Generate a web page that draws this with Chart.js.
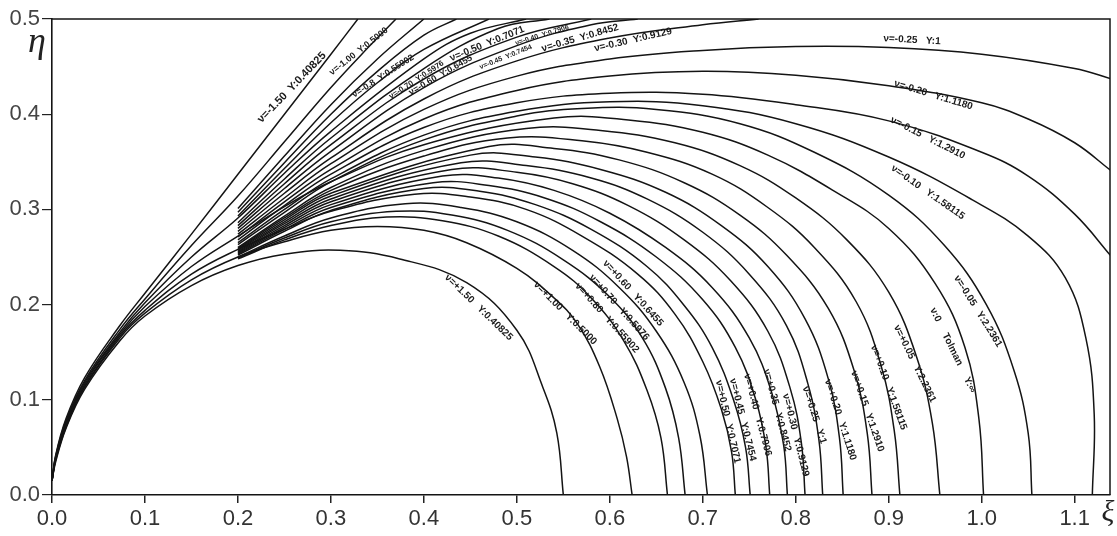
<!DOCTYPE html>
<html>
<head>
<meta charset="utf-8">
<script src="https://cdn.jsdelivr.net/npm/chart.js@4.4.1/dist/chart.umd.min.js"></script>
<style>
html, body { margin: 0; padding: 0; background: #fff; }
</style>
</head>
<body>
<canvas id="chartCanvas" width="1117" height="536"></canvas>
<script>
// curves, [xi, eta]
var nuM150 = [[0,0.015],[0.004,0.042],[0.015,0.08],[0.035,0.123],[0.073,0.178],[0.1,0.212],[0.15,0.274],[0.2,0.337],[0.25,0.4],[0.3,0.463],[0.329,0.5]];
var nuM100 = [[0,0.015],[0.004,0.041],[0.015,0.078],[0.035,0.12],[0.073,0.174],[0.1,0.206],[0.15,0.262],[0.2,0.314],[0.25,0.371],[0.3,0.428],[0.34,0.47],[0.37,0.5]];
var nuM080 = [[0.2,0.301],[0.25,0.356],[0.3,0.41],[0.35,0.458],[0.4,0.5]];
var nuM070 = [[0.2,0.297],[0.25,0.349],[0.3,0.4],[0.35,0.445],[0.4,0.483],[0.435,0.5]];
var nuM060 = [[0.2,0.293],[0.25,0.343],[0.3,0.391],[0.35,0.433],[0.4,0.468],[0.47,0.5]];
var nuM050 = [[0,0.015],[0.004,0.04],[0.015,0.076],[0.035,0.118],[0.073,0.171],[0.1,0.202],[0.15,0.25],[0.2,0.291],[0.25,0.338],[0.3,0.382],[0.4,0.458],[0.45,0.485],[0.51,0.5]];
var nuM045 = [[0.2,0.286],[0.25,0.332],[0.3,0.375],[0.4,0.448],[0.48,0.49],[0.535,0.5]];
var nuM040 = [[0.2,0.283],[0.25,0.327],[0.3,0.368],[0.4,0.437],[0.5,0.481],[0.58,0.5]];
var nuM035 = [[0.2,0.28],[0.25,0.322],[0.3,0.361],[0.4,0.428],[0.5,0.472],[0.58,0.494],[0.63,0.5]];
var nuM030 = [[0.2,0.277],[0.25,0.317],[0.3,0.354],[0.4,0.416],[0.5,0.456],[0.6,0.48],[0.7,0.494],[0.76,0.5]];
var nuM025 = [[0.2,0.274],[0.25,0.312],[0.3,0.348],[0.4,0.405],[0.5,0.44],[0.6,0.458],[0.7,0.467],[0.8,0.471],[0.9,0.47],[1.0,0.463],[1.1,0.448],[1.14,0.437]];
var nuM020 = [[0.2,0.271],[0.25,0.308],[0.3,0.342],[0.4,0.395],[0.5,0.425],[0.6,0.44],[0.7,0.445],[0.8,0.441],[0.9,0.43],[1.0,0.412],[1.05,0.395],[1.1,0.37],[1.14,0.34]];
var nuM015 = [[0.2,0.268],[0.25,0.304],[0.3,0.337],[0.4,0.386],[0.5,0.412],[0.6,0.422],[0.7,0.421],[0.8,0.41],[0.9,0.393],[1.0,0.36],[1.05,0.335],[1.1,0.295],[1.14,0.25]];
var nuM010 = [[0.2,0.265],[0.25,0.3],[0.3,0.332],[0.4,0.378],[0.5,0.403],[0.6,0.413],[0.7,0.409],[0.8,0.39],[0.9,0.355],[0.99,0.31],[1.05,0.272],[1.09,0.228],[1.112,0.165],[1.121,0.085],[1.119,0]];
var nuM005 = [[0.2,0.263],[0.25,0.297],[0.3,0.329],[0.4,0.373],[0.5,0.398],[0.57,0.406],[0.65,0.405],[0.74,0.39],[0.82,0.36],[0.9,0.315],[0.96,0.262],[1.005,0.2],[1.035,0.13],[1.05,0.065],[1.054,0]];
var nuZero = [[0,0.015],[0.004,0.039],[0.015,0.074],[0.035,0.116],[0.073,0.169],[0.1,0.198],[0.15,0.24],[0.2,0.272],[0.25,0.303],[0.3,0.329],[0.4,0.368],[0.54,0.396],[0.62,0.394],[0.7,0.381],[0.77,0.357],[0.84,0.32],[0.9,0.28],[0.95,0.222],[0.982,0.155],[0.997,0.08],[1.002,0]];
var nuP005 = [[0.2,0.26],[0.25,0.293],[0.3,0.323],[0.4,0.362],[0.51,0.385],[0.59,0.383],[0.67,0.37],[0.74,0.346],[0.8,0.312],[0.855,0.268],[0.9,0.213],[0.93,0.145],[0.947,0.075],[0.955,0]];
var nuP010 = [[0.2,0.259],[0.25,0.291],[0.3,0.32],[0.4,0.356],[0.49,0.375],[0.57,0.372],[0.64,0.36],[0.71,0.337],[0.77,0.302],[0.82,0.26],[0.865,0.203],[0.892,0.135],[0.906,0.067],[0.912,0]];
var nuP015 = [[0.2,0.258],[0.25,0.289],[0.3,0.317],[0.47,0.366],[0.54,0.364],[0.61,0.352],[0.68,0.328],[0.74,0.294],[0.79,0.252],[0.835,0.196],[0.863,0.13],[0.877,0.064],[0.882,0]];
var nuP020 = [[0.2,0.257],[0.25,0.287],[0.3,0.314],[0.45,0.357],[0.52,0.355],[0.59,0.342],[0.66,0.318],[0.72,0.283],[0.77,0.24],[0.81,0.185],[0.835,0.122],[0.847,0.06],[0.851,0]];
var nuP025 = [[0.2,0.256],[0.25,0.285],[0.3,0.311],[0.44,0.349],[0.51,0.346],[0.58,0.333],[0.64,0.311],[0.7,0.276],[0.75,0.232],[0.79,0.178],[0.813,0.117],[0.825,0.057],[0.829,0]];
var nuP030 = [[0.2,0.255],[0.25,0.283],[0.3,0.308],[0.43,0.342],[0.5,0.339],[0.56,0.327],[0.62,0.304],[0.68,0.268],[0.73,0.225],[0.77,0.172],[0.794,0.112],[0.806,0.055],[0.81,0]];
var nuP035 = [[0.2,0.254],[0.25,0.281],[0.3,0.305],[0.42,0.335],[0.48,0.333],[0.54,0.32],[0.6,0.296],[0.66,0.26],[0.71,0.218],[0.75,0.165],[0.774,0.108],[0.787,0.052],[0.791,0]];
var nuP040 = [[0.2,0.253],[0.25,0.279],[0.3,0.302],[0.41,0.328],[0.47,0.325],[0.53,0.312],[0.59,0.287],[0.65,0.25],[0.7,0.205],[0.735,0.155],[0.757,0.1],[0.768,0.05],[0.772,0]];
var nuP045 = [[0.2,0.252],[0.25,0.277],[0.3,0.299],[0.4,0.322],[0.46,0.319],[0.52,0.305],[0.58,0.279],[0.64,0.24],[0.68,0.199],[0.71,0.155],[0.733,0.1],[0.746,0.05],[0.751,0]];
var nuP050 = [[0,0.015],[0.004,0.038],[0.015,0.073],[0.035,0.114],[0.073,0.167],[0.1,0.194],[0.15,0.232],[0.2,0.258],[0.25,0.279],[0.3,0.298],[0.39,0.316],[0.45,0.313],[0.51,0.3],[0.57,0.272],[0.63,0.232],[0.67,0.19],[0.7,0.14],[0.72,0.09],[0.731,0.045],[0.735,0]];
var nuP060 = [[0.2,0.25],[0.25,0.272],[0.3,0.291],[0.38,0.306],[0.44,0.302],[0.5,0.287],[0.56,0.257],[0.61,0.218],[0.65,0.172],[0.68,0.118],[0.697,0.062],[0.705,0]];
var nuP070 = [[0.2,0.249],[0.25,0.27],[0.3,0.287],[0.37,0.298],[0.43,0.294],[0.49,0.278],[0.55,0.247],[0.6,0.208],[0.635,0.165],[0.66,0.112],[0.674,0.06],[0.681,0]];
var nuP080 = [[0.2,0.248],[0.25,0.268],[0.3,0.283],[0.36,0.292],[0.42,0.288],[0.48,0.272],[0.54,0.24],[0.58,0.207],[0.615,0.162],[0.64,0.11],[0.655,0.06],[0.662,0]];
var nuP100 = [[0,0.015],[0.004,0.037],[0.015,0.071],[0.035,0.113],[0.073,0.165],[0.1,0.191],[0.15,0.226],[0.2,0.25],[0.25,0.266],[0.3,0.278],[0.35,0.282],[0.4,0.278],[0.446,0.265],[0.5,0.238],[0.54,0.207],[0.565,0.18],[0.589,0.135],[0.608,0.08],[0.618,0.04],[0.624,0]];
var nuP150 = [[0,0.015],[0.004,0.035],[0.015,0.07],[0.035,0.111],[0.073,0.162],[0.1,0.188],[0.15,0.22],[0.2,0.241],[0.25,0.253],[0.31,0.257],[0.374,0.248],[0.446,0.223],[0.5,0.173],[0.528,0.113],[0.543,0.065],[0.55,0]];

var curves = [nuM150, nuM100, nuM080, nuM070, nuM060, nuM050, nuM045, nuM040, nuM035, nuM030,
              nuM025, nuM020, nuM015, nuM010, nuM005, nuZero, nuP005, nuP010, nuP015, nuP020,
              nuP025, nuP030, nuP035, nuP040, nuP045, nuP050, nuP060, nuP070, nuP080, nuP100, nuP150];

var xTicks = [0, 0.1, 0.2, 0.3, 0.4, 0.5, 0.6, 0.7, 0.8, 0.9, 1.0, 1.1];
var yTicks = [0, 0.1, 0.2, 0.3, 0.4, 0.5];

// curve captions: text, xi, eta, angle (deg), size
var curveLabels = [
    ["ν=-1.50  Y:0.40825", 0.258, 0.428, -46, 11],
    ["ν=-1.00  Y:0.5000", 0.33, 0.466, -38, 9],
    ["ν=-0.8  Y:0.55902", 0.356, 0.44, -33, 9],
    ["ν=-0.70  Y:0.5976", 0.392, 0.436, -33, 8],
    ["ν=-0.60  Y:0.6455", 0.418, 0.441, -30, 9],
    ["ν=-0.50  Y:0.7071", 0.468, 0.474, -22, 10],
    ["ν=-0.45  Y:0.7454", 0.488, 0.46, -22, 7],
    ["ν=-0.40  Y:0.7906", 0.527, 0.483, -17, 7],
    ["ν=-0.35  Y:0.8452", 0.568, 0.48, -16, 10],
    ["ν=-0.30  Y:0.9129", 0.625, 0.478, -13, 10],
    ["ν=-0.25   Y:1", 0.925, 0.478, 3, 10],
    ["ν=-0.20   Y:1.1180", 0.948, 0.42, 17, 10],
    ["ν=-0.15   Y:1.2910", 0.942, 0.375, 27, 10],
    ["ν=-0.10   Y:1.58115", 0.942, 0.318, 35, 10],
    ["ν=-0.05   Y:2.2361", 0.996, 0.193, 58, 10],
    ["ν:0     Tolman     Y:∞", 0.969, 0.152, 64, 10],
    ["ν=+0.05   Y:2.2361", 0.928, 0.138, 64, 10],
    ["ν=+0.10   Y:1.58115", 0.9, 0.113, 70, 10],
    ["ν=+0.15   Y:1.2910", 0.877, 0.088, 71, 10],
    ["ν=+0.20   Y:1.1180", 0.848, 0.079, 72, 10],
    ["ν=+0.25   Y:1", 0.82, 0.084, 72, 10],
    ["ν=+0.30   Y:0.9129", 0.8, 0.063, 76, 10],
    ["ν=+0.35   Y:0.8452", 0.78, 0.089, 75, 10],
    ["ν=+0.40   Y:0.7906", 0.759, 0.084, 75, 10],
    ["ν=+0.45   Y:0.7454", 0.743, 0.079, 76, 10],
    ["ν=+0.50   Y:0.7071", 0.727, 0.077, 77, 10],
    ["ν=+0.60   Y:0.6455", 0.625, 0.212, 48, 10],
    ["ν=+0.70   Y:0.5976", 0.61, 0.197, 48, 10],
    ["ν=+0.80   Y:0.55902", 0.597, 0.186, 48, 10],
    ["ν=+1.00   Y:0.5000", 0.552, 0.191, 45, 10],
    ["ν=+1.50   Y:0.40825", 0.459, 0.197, 44, 10]
];

var datasets = [];
for (var i = 0; i < curves.length; i++) {
    var pts = [];
    for (var j = 0; j < curves[i].length; j++) {
        pts.push({ x: curves[i][j][0], y: curves[i][j][1] });
    }
    datasets.push({
        data: pts,
        showLine: true,
        borderColor: "#141414",
        borderWidth: 1.5,
        pointRadius: 0,
        tension: 0.4,
        fill: false
    });
}

var extras = {
    id: "extras",
    afterDatasetsDraw: function(chart) {
        var ctx = chart.ctx;
        var a = chart.chartArea;
        var xs = chart.scales.x;
        var ys = chart.scales.y;
        ctx.save();
        // top and right frame
        ctx.strokeStyle = "#141414";
        ctx.lineWidth = 1.5;
        ctx.beginPath();
        ctx.moveTo(a.left, a.top);
        ctx.lineTo(a.right, a.top);
        ctx.lineTo(a.right, a.bottom);
        ctx.stroke();

        ctx.fillStyle = "#1a1a1a";
        ctx.textAlign = "center";
        ctx.textBaseline = "middle";
        for (var k = 0; k < curveLabels.length; k++) {
            var l = curveLabels[k];
            ctx.save();
            ctx.translate(xs.getPixelForValue(l[1]), ys.getPixelForValue(l[2]));
            ctx.rotate(l[3] * Math.PI / 180);
            ctx.font = "bold " + l[4] + "px 'Liberation Sans', Arial, sans-serif";
            ctx.fillText(l[0], 0, 0);
            ctx.restore();
        }

        // axis symbols
        ctx.fillStyle = "#222";
        ctx.font = "italic 36px 'Liberation Serif', serif";
        ctx.textBaseline = "alphabetic";
        ctx.fillText("η", 37, 52);
        ctx.font = "italic 30px 'Liberation Serif', serif";
        ctx.fillText("ξ", 1108, 521);
        ctx.restore();
    }
};

var ctx = document.getElementById("chartCanvas").getContext("2d");
new Chart(ctx, {
    type: "scatter",
    data: { datasets: datasets },
    options: {
        responsive: false,
        animation: false,
        events: [],
        layout: { padding: { top: 19, right: 7, left: 0, bottom: 0 } },
        plugins: { legend: { display: false }, tooltip: { enabled: false } },
        scales: {
            x: {
                type: "linear",
                min: 0,
                max: 1.138,
                afterFit: function(s) { s.height = 41; },
                afterBuildTicks: function(s) { s.ticks = xTicks.map(function(v) { return { value: v }; }); },
                border: { display: true, color: "#141414", width: 1.6 },
                grid: { drawOnChartArea: false, drawTicks: true, tickLength: 8, color: "#222", lineWidth: 1.5 },
                ticks: {
                    padding: 3,
                    color: "#333",
                    font: { family: "'Liberation Sans', Arial, sans-serif", size: 22 },
                    maxRotation: 0,
                    callback: function(v) { return v.toFixed(1); }
                }
            },
            y: {
                type: "linear",
                min: 0,
                max: 0.5,
                afterFit: function(s) { s.width = 52; },
                afterBuildTicks: function(s) { s.ticks = yTicks.map(function(v) { return { value: v }; }); },
                border: { display: true, color: "#141414", width: 1.6 },
                grid: { drawOnChartArea: false, drawTicks: true, tickLength: 10, color: "#222", lineWidth: 1.2 },
                ticks: {
                    padding: 2,
                    color: "#444",
                    font: { family: "'Liberation Sans', Arial, sans-serif", size: 22 },
                    callback: function(v) { return v.toFixed(1); }
                }
            }
        }
    },
    plugins: [extras]
});
</script>
</body>
</html>
